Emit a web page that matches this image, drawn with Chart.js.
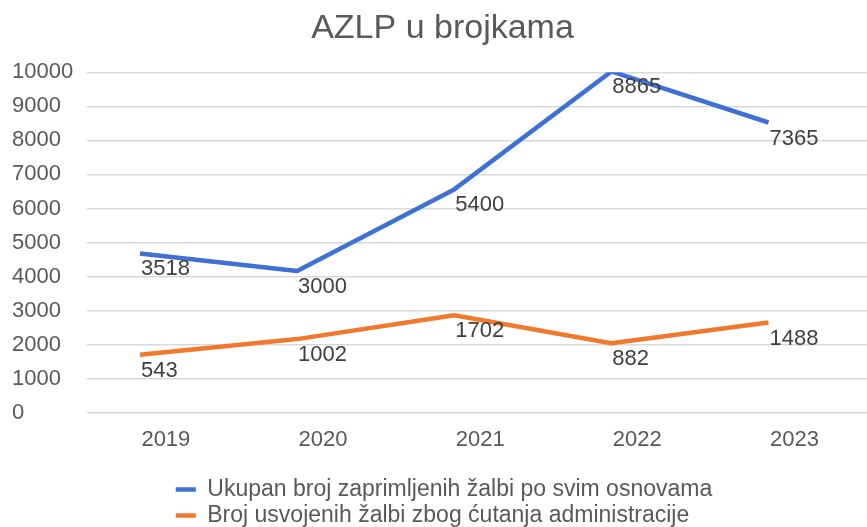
<!DOCTYPE html>
<html>
<head>
<meta charset="utf-8">
<title>AZLP u brojkama</title>
<script src="https://cdn.jsdelivr.net/npm/chart.js@4/dist/chart.umd.min.js"></script>
<style>
  html, body { margin: 0; padding: 0; background: #fff; overflow: hidden; }
</style>
</head>
<body>
<canvas id="azlpChart" width="873" height="527"></canvas>
<script>
const years = ["2019", "2020", "2021", "2022", "2023"];
const totalAppeals = [3518, 3000, 5400, 8865, 7365];
const silenceAppeals = [543, 1002, 1702, 882, 1488];
const seriesNames = [
  "Ukupan broj zaprimljenih žalbi po svim osnovama",
  "Broj usvojenih žalbi zbog ćutanja administracije"
];

const FONT = "'Liberation Sans', Arial, sans-serif";
const GREY = "#595959";

// vrijednosti ispisane uz svaku tocku
const pointLabels = {
  id: "pointLabels",
  afterDatasetsDraw(chart) {
    const ctx = chart.ctx;
    ctx.save();
    ctx.font = "22px " + FONT;
    ctx.fillStyle = "#404040";
    ctx.textAlign = "left";
    ctx.textBaseline = "alphabetic";
    chart.data.datasets.forEach((ds, i) => {
      chart.getDatasetMeta(i).data.forEach((pt, j) => {
        ctx.fillText(String(ds.data[j].y), pt.x + 1, pt.y + 22);
      });
    });
    ctx.restore();
  }
};

// legenda: redovi poravnati lijevo, blok centriran
const legendBlock = {
  id: "legendBlock",
  afterLayout(chart) {
    const lg = chart.legend;
    if (!lg || !lg.lineWidths) return;
    const w = Math.max(...lg.lineWidths);
    lg.left = (lg.left + lg.right - w) / 2;
  }
};

const toPoints = arr => arr.map((v, i) => ({ x: i, y: v }));

new Chart(document.getElementById("azlpChart"), {
  type: "line",
  data: {
    datasets: [
      {
        label: seriesNames[0],
        data: toPoints(totalAppeals),
        borderColor: "#3f70d3",
        backgroundColor: "#3f70d3",
        borderWidth: 4.5,
        pointRadius: 0,
        borderJoinStyle: "round",
        xAxisID: "x2",
        yAxisID: "y2"
      },
      {
        label: seriesNames[1],
        data: toPoints(silenceAppeals),
        borderColor: "#ef7a2e",
        backgroundColor: "#ef7a2e",
        borderWidth: 4.5,
        pointRadius: 0,
        borderJoinStyle: "round",
        xAxisID: "x2",
        yAxisID: "y2"
      }
    ]
  },
  options: {
    responsive: false,
    animation: false,
    layout: { padding: { left: 12, right: 0, top: 0, bottom: -10 } },
    scales: {
      x: {
        type: "category",
        labels: years,
        offset: true,
        grid: { display: false, drawTicks: false },
        border: { display: false },
        ticks: { color: GREY, font: { family: FONT, size: 22 }, padding: 14 },
        afterFit: axis => { axis.height = 62.3; }
      },
      y: {
        min: 0,
        max: 10000,
        ticks: {
          stepSize: 1000,
          color: GREY,
          font: { family: FONT, size: 22 },
          crossAlign: "far",
          padding: 12,
          callback: v => String(v)
        },
        grid: { color: "#d9d9d9", lineWidth: 1.5, drawTicks: false },
        border: { display: false },
        afterFit: axis => { axis.width = 75.3; }
      },
      x2: { type: "linear", display: false, min: -0.335, max: 4.665 },
      y2: { type: "linear", display: false, min: -1160, max: 8840 }
    },
    plugins: {
      title: {
        display: true,
        text: "AZLP u brojkama",
        color: GREY,
        font: { family: FONT, size: 34, weight: "normal" },
        padding: { top: 8.5, bottom: 23 }
      },
      legend: {
        position: "bottom",
        align: "start",
        labels: {
          color: GREY,
          font: { family: FONT, size: 23 },
          usePointStyle: true,
          pointStyle: "line",
          pointStyleWidth: 20,
          padding: 3
        }
      },
      tooltip: { enabled: false }
    }
  },
  plugins: [pointLabels, legendBlock]
});
</script>
</body>
</html>
